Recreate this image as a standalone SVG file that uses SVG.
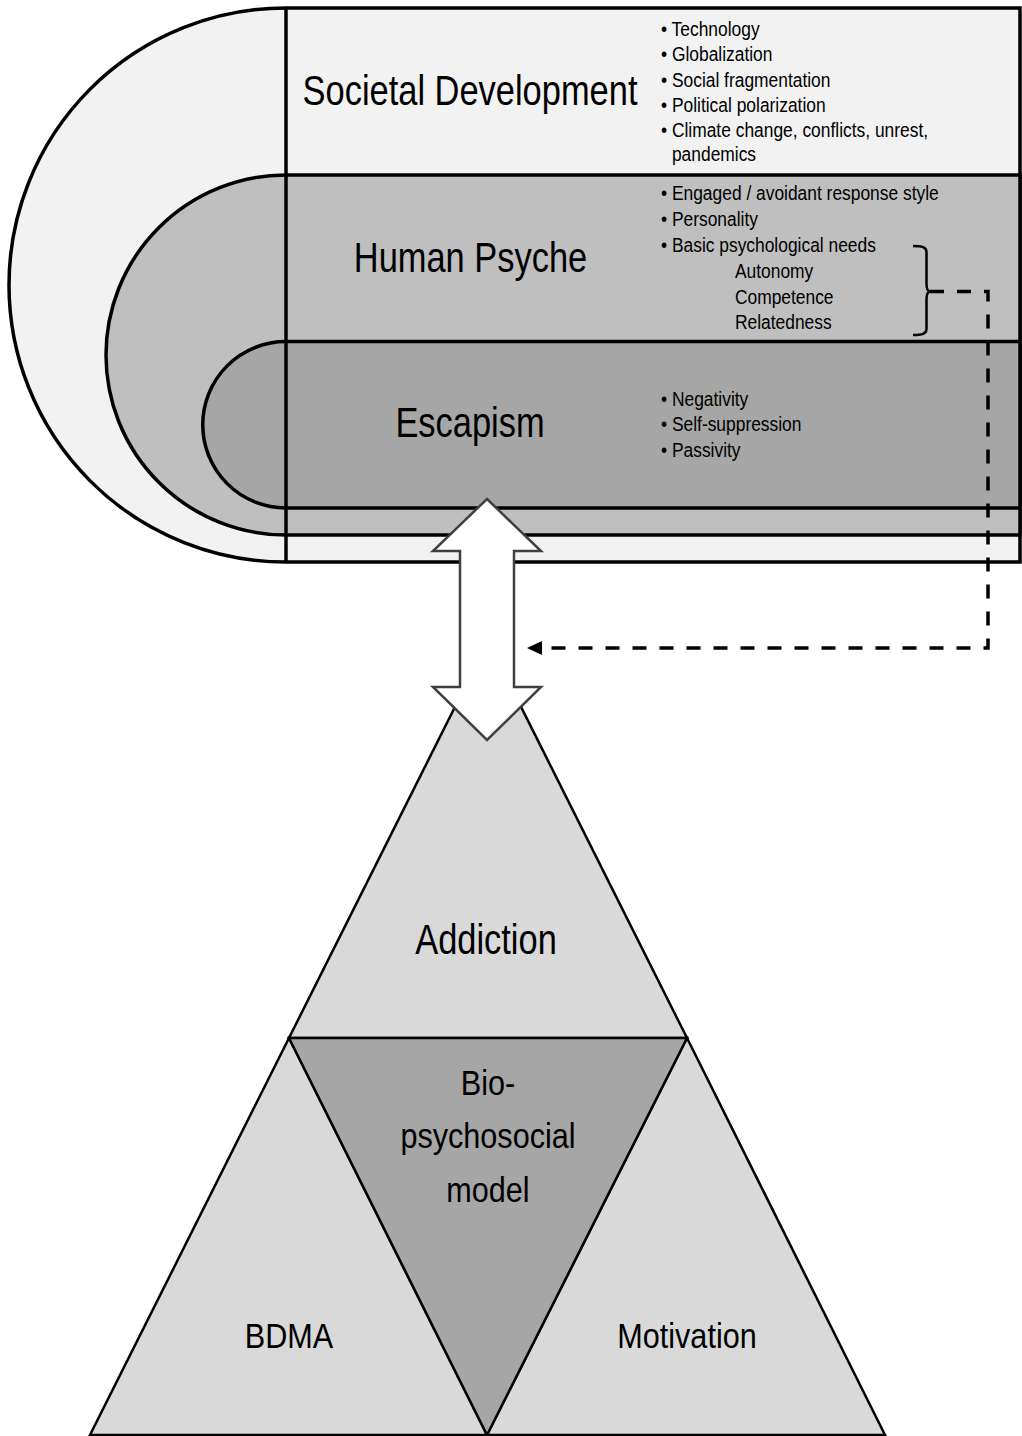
<svg xmlns="http://www.w3.org/2000/svg" width="1022" height="1436" viewBox="0 0 1022 1436">
<defs>
<style>
.ln{stroke:#000;stroke-width:3.5;fill:none}
.band{stroke:#000;stroke-width:3.5}
.tri{stroke:#000;stroke-width:2.5;stroke-linejoin:miter}
.lbl{font-family:"Liberation Sans",Arial,sans-serif;font-size:42px;text-anchor:middle;fill:#000}
.lbs{font-family:"Liberation Sans",Arial,sans-serif;font-size:36px;text-anchor:middle;fill:#000}
.bl{font-family:"Liberation Sans",Arial,sans-serif;font-size:20px;fill:#000}
</style>
<marker id="ah" markerUnits="userSpaceOnUse" markerWidth="16" markerHeight="14" viewBox="0 0 16 14" refX="0" refY="7" orient="auto">
<path d="M0,0 L15,7 L0,14 Z" fill="#000"/>
</marker>
</defs>
<rect width="1022" height="1436" fill="#fff"/>

<g id="societal-development">
<path class="band" fill="#f2f2f2" d="M286,8 H1020 V562 H286 A277 277 0 0 1 286,8 Z"/>
<line class="ln" x1="286" y1="8" x2="286" y2="562"/>
<text class="lbl" transform="translate(470 105) scale(0.82 1)">Societal Development</text>
<text class="bl" transform="translate(661 0) scale(0.87 1)"><tspan x="0" y="36">• Technology</tspan><tspan x="0" y="61">• Globalization</tspan><tspan x="0" y="87">• Social fragmentation</tspan><tspan x="0" y="112">• Political polarization</tspan><tspan x="0" y="137">• Climate change, conflicts, unrest,</tspan><tspan x="12.6" y="161">pandemics</tspan></text>
</g>

<g id="human-psyche">
<path class="band" fill="#bfbfbf" d="M286,175 H1020 V535 H286 A180 180 0 0 1 286,175 Z"/>
<line class="ln" x1="286" y1="175" x2="286" y2="535"/>
<text class="lbl" transform="translate(470.5 272) scale(0.82 1)">Human Psyche</text>
<text class="bl" transform="translate(661 0) scale(0.87 1)"><tspan x="0" y="200">• Engaged / avoidant response style</tspan><tspan x="0" y="226">• Personality</tspan><tspan x="0" y="252">• Basic psychological needs</tspan><tspan x="85" y="278">Autonomy</tspan><tspan x="85" y="304">Competence</tspan><tspan x="85" y="329">Relatedness</tspan></text>
<path d="M913,246 C922,246 926.5,247 926.5,252 L926.5,284 C926.5,289 927.5,291 930,291.5 C927.5,292 926.5,294 926.5,299 L926.5,329 C926.5,334 922,335 913,335" fill="none" stroke="#000" stroke-width="2.5"/>
</g>

<g id="escapism">
<path class="band" fill="#a6a6a6" d="M286,341.5 H1020 V508 H286 A83.25 83.25 0 0 1 286,341.5 Z"/>
<line class="ln" x1="286" y1="341.5" x2="286" y2="508"/>
<text class="lbl" transform="translate(470 437) scale(0.82 1)">Escapism</text>
<text class="bl" transform="translate(661 0) scale(0.87 1)"><tspan x="0" y="406">• Negativity</tspan><tspan x="0" y="431">• Self-suppression</tspan><tspan x="0" y="457">• Passivity</tspan></text>
</g>

<g id="addiction">
<polygon class="tri" fill="#d9d9d9" points="488,641 289,1038 687,1038"/>
<text class="lbl" transform="translate(486 954) scale(0.82 1)">Addiction</text>
</g>

<g id="bdma">
<polygon class="tri" fill="#d9d9d9" points="289,1038 90,1435 487,1435"/>
<text class="lbs" transform="translate(289 1348) scale(0.85 1)">BDMA</text>
</g>

<g id="motivation">
<polygon class="tri" fill="#d9d9d9" points="687,1038 487,1435 885,1435"/>
<text class="lbs" transform="translate(687 1348) scale(0.85 1)">Motivation</text>
</g>

<g id="biopsychosocial-model">
<polygon class="tri" fill="#a6a6a6" points="289,1038 687,1038 487,1435"/>
<text class="lbs" transform="translate(488 0) scale(0.85 1)"><tspan x="0" y="1095">Bio-</tspan><tspan x="0" y="1148">psychosocial</tspan><tspan x="0" y="1202">model</tspan></text>
</g>

<g id="connectors">
<path d="M930,291.5 H988 V648 H542" fill="none" stroke="#000" stroke-width="3.5" stroke-dasharray="14,13" marker-end="url(#ah)"/>
<polygon points="487,499 541,551 514,551 514,687 541,687 487,740 433,687 460,687 460,551 433,551" fill="#fff" stroke="#404040" stroke-width="2.5" stroke-linejoin="miter"/>
</g>
</svg>
